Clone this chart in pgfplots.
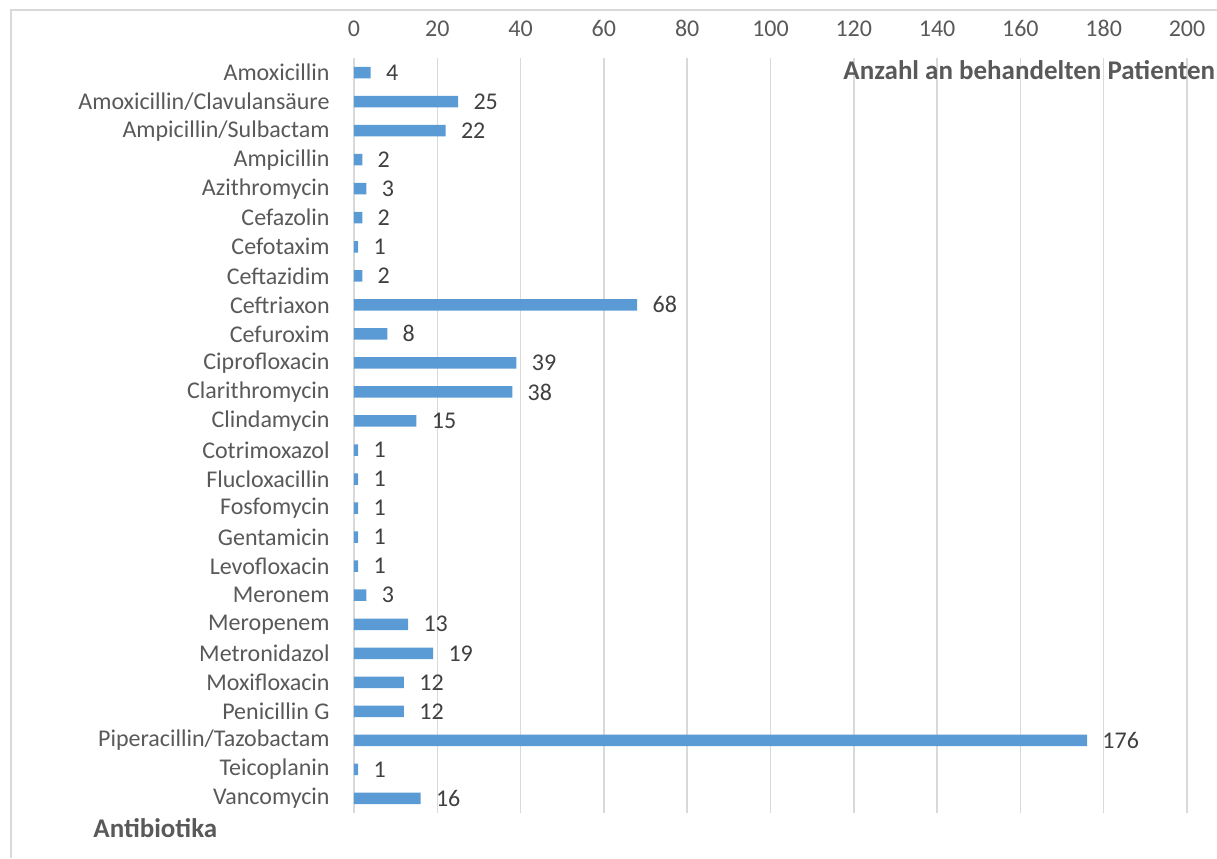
\documentclass[border=0pt]{standalone}
\usepackage{fontspec}
\setmainfont{Carlito}
\usepackage{pgfplots}
\pgfplotsset{compat=1.18}
\definecolor{barblue}{HTML}{5B9BD5}
\definecolor{gridgray}{HTML}{D9D9D9}
\definecolor{labgray}{HTML}{595959}
\definecolor{valgray}{HTML}{404040}
\begin{document}
\begin{tikzpicture}
\useasboundingbox (0,0) rectangle (608.5pt,429pt);
% outer chart frame (left and top edges)
\draw[gridgray, line width=0.9pt] (5.5pt,0pt) -- (5.5pt,424pt) -- (608.5pt,424pt);
\begin{axis}[
  at={(177pt,22.5pt)}, anchor=south west,
  scale only axis,
  width=416.5pt, height=377.5pt,
  xbar, bar width=5.75pt,
  xmin=0, xmax=200,
  ymin=-0.5, ymax=25.5,
  y dir=reverse,
  xtick={0,20,...,200},
  ytick={0,...,25},
  yticklabels={Amoxicillin, Amoxicillin/Clavulansäure, Ampicillin/Sulbactam, Ampicillin, Azithromycin, Cefazolin, Cefotaxim, Ceftazidim, Ceftriaxon, Cefuroxim, Ciprofloxacin, Clarithromycin, Clindamycin, Cotrimoxazol, {Flucloxacillin\ }, Fosfomycin, Gentamicin, {Levofloxacin\ }, Meronem, Meropenem, Metronidazol, Moxifloxacin, Penicillin G, Piperacillin/Tazobactam, Teicoplanin, Vancomycin},
  axis line style={draw=none},
  xticklabel pos=upper,
  major tick length=0pt,
  tick style={draw=none},
  xmajorgrids,
  grid style={gridgray, line width=0.75pt},
  /pgf/number format/assume math mode=true,
  tick label style={font=\fontsize{12}{14}\selectfont, text=labgray},
  xticklabel style={anchor=base, yshift=10.75pt, inner sep=0pt},
  yticklabel style={anchor=east, inner sep=0pt, xshift=-12pt},
  nodes near coords,
  point meta=x,
  nodes near coords style={font=\fontsize{12}{14}\selectfont, text=valgray, anchor=west, inner sep=0pt, xshift=7.5pt},
  clip=false,
]
% vertical axis line at zero
\draw[gridgray, line width=0.75pt] (axis cs:0,-0.5) -- (axis cs:0,25.5);
\addplot[fill=barblue, draw=none] coordinates {
  (4,0) (25,1) (22,2) (2,3) (3,4) (2,5) (1,6) (2,7) (68,8) (8,9)
  (39,10) (38,11) (15,12) (1,13) (1,14) (1,15) (1,16) (1,17) (3,18)
  (13,19) (19,20) (12,21) (12,22) (176,23) (1,24) (16,25)
};
\end{axis}
% axis titles
\node[anchor=base west, inner sep=0pt, font=\fontsize{13.5}{16}\selectfont\bfseries, text=labgray]
  at (421.5pt,389pt) {Anzahl an behandelten Patienten};
\node[anchor=base west, inner sep=0pt, font=\fontsize{13.5}{16}\selectfont\bfseries, text=labgray]
  at (46.5pt,10.5pt) {Antibiotika};
\end{tikzpicture}
\end{document}
